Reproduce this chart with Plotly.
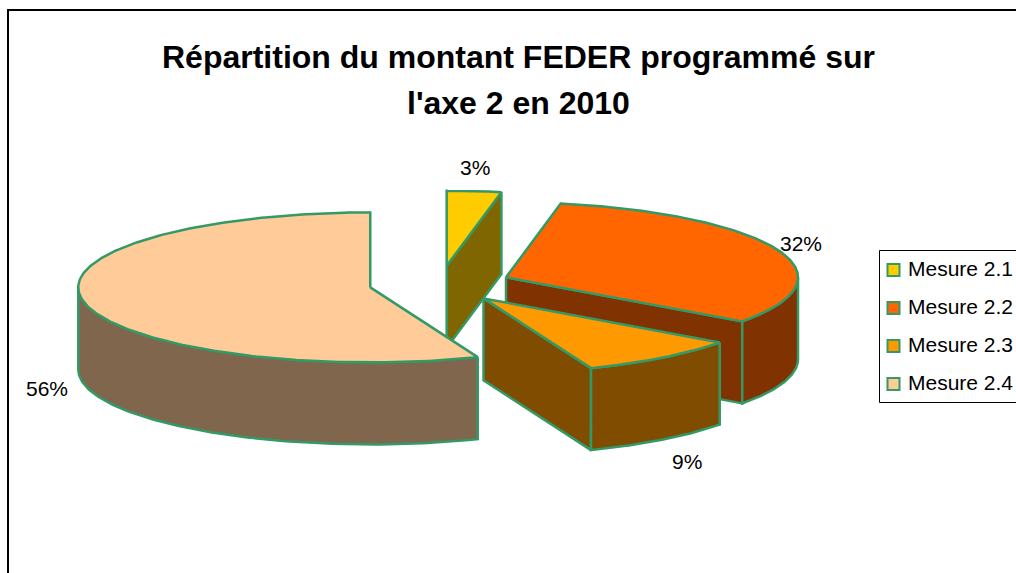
import numpy as np
import plotly.graph_objects as go

categories = ["Mesure 2.1", "Mesure 2.2", "Mesure 2.3", "Mesure 2.4"]
shares = [3, 32, 9, 56]
top_colors = ["#FFCC00", "#FF6600", "#FF9900", "#FFCC99"]
wall_colors = ["#806600", "#803300", "#804D00", "#80664D"]
percent_labels = ["3%", "32%", "9%", "56%"]
title_lines = ["Répartition du montant FEDER programmé sur", "l'axe 2 en 2010"]

EDGE = "#339966"
CX, CY, RX, RY, DEPTH, EXPLODE = 440, 284, 292, 75, 82, 71
FONT = "Liberation Sans"


def rim(cx, cy, a):
    t = np.radians(a)
    return cx + RX * np.sin(t), cy - RY * np.cos(t)


def face(fig, xs, ys, color):
    fig.add_trace(go.Scatter(x=list(xs), y=list(ys), mode="lines", fill="toself", fillcolor=color,
                             line=dict(color=EDGE, width=2.5), hoverinfo="skip", showlegend=False))


fig = go.Figure()
total = sum(shares)
start = 0.0
label_anchor = [(475, 167), (801, 243), (687, 461), (47, 388)]
for i, share in enumerate(shares):
    end = start + 360 * share / total
    mid = np.radians((start + end) / 2)
    cx = CX + EXPLODE * np.sin(mid)
    cy = CY - EXPLODE * RY / RX * np.cos(mid)
    # radial walls that face the viewer
    for a, visible in ((start, np.sin(np.radians(start)) < -1e-9), (end, np.sin(np.radians(end)) > 1e-9)):
        if visible:
            rx, ry = rim(cx, cy, a)
            face(fig, [cx, rx, rx, cx, cx], [cy, ry, ry + DEPTH, cy + DEPTH, cy], wall_colors[i])
    # outer curved wall
    lo, hi = max(start, 90), min(end, 270)
    if lo < hi:
        ang = np.linspace(lo, hi, 120)
        rx, ry = rim(cx, cy, ang)
        face(fig, np.r_[rx, rx[::-1], rx[0]], np.r_[ry, ry[::-1] + DEPTH, ry[0]], wall_colors[i])
    # top face
    ang = np.linspace(start, end, 240)
    rx, ry = rim(cx, cy, ang)
    face(fig, np.r_[cx, rx, cx], np.r_[cy, ry, cy], top_colors[i])
    start = end

# legend swatches and names
LEG_X, LEG_Y0, LEG_DY = 893.5, 270, 38
leg_ys = [LEG_Y0 + k * LEG_DY for k in range(4)]
fig.add_trace(go.Scatter(
    x=[LEG_X] * 4, y=leg_ys, mode="markers",
    marker=dict(symbol="square", size=12, color=top_colors, line=dict(color=EDGE, width=2)),
    hoverinfo="skip", showlegend=False))

annotations = [dict(x=518, y=y, xref="x", yref="y", text=t, showarrow=False,
                    font=dict(family=FONT, size=32, color="black"))
               for t, y in zip(["<b>%s</b>" % s for s in title_lines], (57, 103))]
annotations += [dict(x=x, y=y, xref="x", yref="y", text=t, showarrow=False,
                     font=dict(family=FONT, size=21, color="black"))
                for t, (x, y) in zip(percent_labels, label_anchor)]
annotations += [dict(x=906, y=y - 1.5, xref="x", yref="y", text=c, showarrow=False, xanchor="left",
                     font=dict(family=FONT, size=21, color="black"))
                for c, y in zip(categories, leg_ys)]

shapes = [
    dict(type="line", xref="x", yref="y", x0=8, x1=8, y0=9, y1=590, line=dict(color="black", width=2)),
    dict(type="line", xref="x", yref="y", x0=7, x1=1030, y0=10, y1=10, line=dict(color="black", width=2)),
    dict(type="rect", xref="x", yref="y", x0=879.5, x1=1040, y0=250.5, y1=402.5, line=dict(color="black", width=1), layer="below"),
]

fig.update_layout(
    width=1016, height=573, margin=dict(l=0, r=0, t=0, b=0),
    paper_bgcolor="white", plot_bgcolor="white", showlegend=False,
    xaxis=dict(range=[0, 1016], visible=False, fixedrange=True),
    yaxis=dict(range=[573, 0], visible=False, fixedrange=True),
    shapes=shapes, annotations=annotations,
)
fig.write_html("out.html", config=dict(displayModeBar=False),
               post_script="document.body.style.margin='0';document.documentElement.style.overflow='hidden';")
